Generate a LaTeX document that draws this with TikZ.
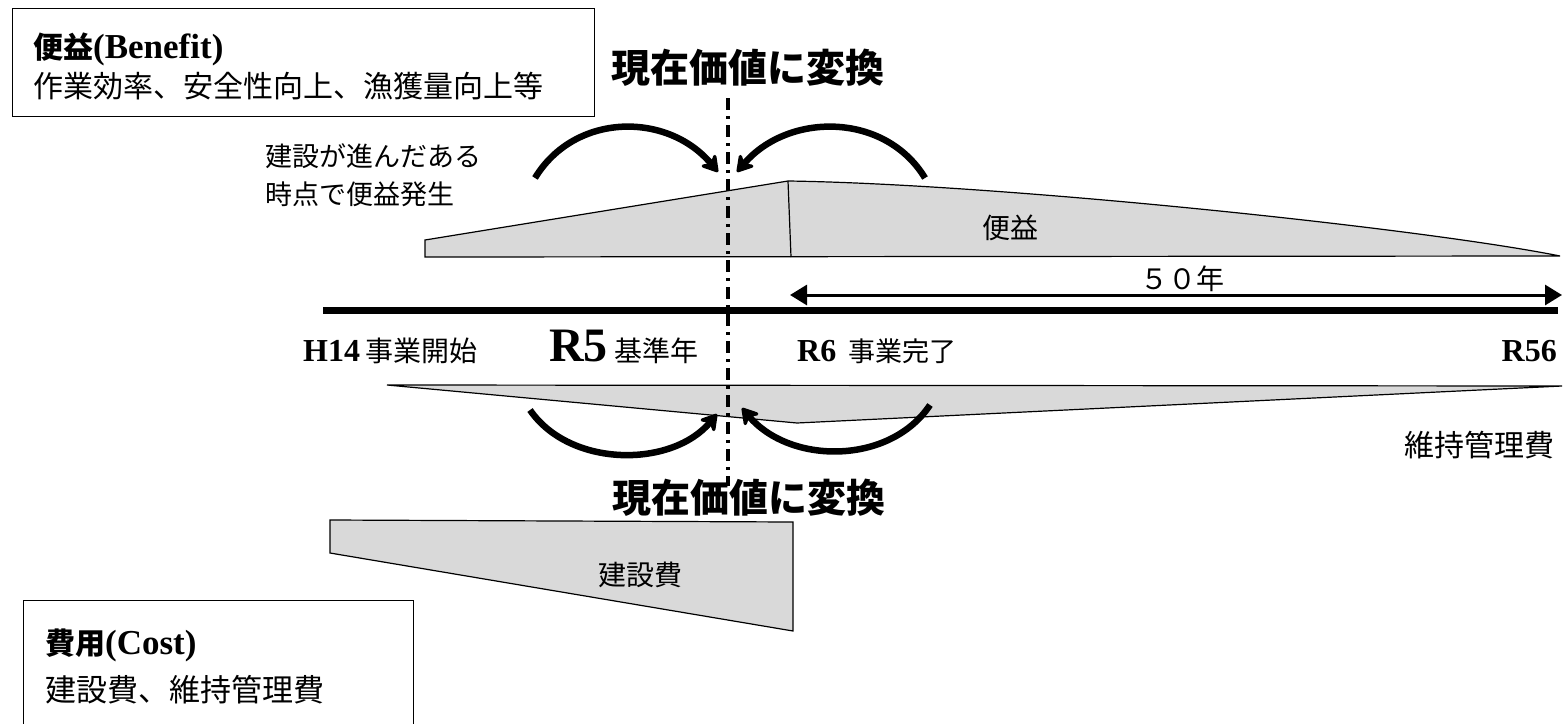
\documentclass[tikz,border=0pt]{standalone}
\usepackage{fontspec}
\setmainfont{Liberation Serif}
\newfontfamily\jp{Noto Sans CJK JP}
\usetikzlibrary{arrows.meta}
\definecolor{shadegray}{HTML}{D9D9D9}
\begin{document}
\begin{tikzpicture}[x=1pt,y=-1pt,
  area/.style={draw=black, line width=1.2pt, fill=shadegray, line join=miter},
  frame/.style={draw=black, line width=1.3pt, inner sep=0pt, anchor=north west},
  swing/.style={line width=6.5pt, -{Stealth[length=20pt,width=24pt,inset=7pt,round]}},
  txt/.style={inner sep=0pt},
  jp/.style={inner sep=0pt, font=\jp\fontsize{#1}{#1}\selectfont},
  jpb/.style={inner sep=0pt, font=\jp\bfseries\fontsize{#1}{#1}\selectfont},
  dashdotline/.style={line width=3.5pt, dash pattern=on 12pt off 6pt on 3pt off 6pt}
]
\useasboundingbox (0,0) rectangle (1565,723);

% boxes
\node[frame, minimum width=582pt, minimum height=108pt] (bbox) at (12,8) {};
\node[frame, minimum width=390pt, minimum height=140pt] (cbox) at (23,600) {};

% box texts
\node[txt, anchor=base west] (btitle) at (33,58) {{\jp\bfseries\fontsize{30}{32}\selectfont 便益}{\bfseries\fontsize{35}{38}\selectfont(Benefit)}};
\node[jp=30, anchor=west] (bdesc) at (33,86) {作業効率、安全性向上、漁獲量向上等};
\node[txt, anchor=base west] (ctitle) at (45,654) {{\jp\bfseries\fontsize{30}{32}\selectfont 費用}{\bfseries\fontsize{35}{38}\selectfont(Cost)}};
\node[jp=31, anchor=west] (cdesc) at (45,690) {建設費、維持管理費};

% shapes
\coordinate (b0) at (425,257);
\coordinate (b1) at (425,240);
\coordinate (bpk) at (788,181);
\coordinate (bbase) at (791,257);
\coordinate (bend) at (1560,256);
\path[area] (b0) -- (b1) -- (bpk) .. controls (1000,184) and (1420,228) .. (bend) -- cycle;
\draw[line width=1.2pt] (bpk) -- (bbase);
\node[jp=28] (blabel) at (1010,228) {便益};

\coordinate (m0) at (387,385);
\coordinate (m1) at (1562,386);
\coordinate (m2) at (797,423);
\path[area] (m0) -- (m1) -- (m2) -- cycle;
\node[jp=30, anchor=east] (mlabel) at (1555,445) {維持管理費};

\coordinate (c0) at (330,520);
\coordinate (c1) at (793,522);
\coordinate (c2) at (793,631);
\coordinate (c3) at (330,553);
\path[area] (c0) -- (c1) -- (c2) -- (c3) -- cycle;
\node[jp=28] (clabel) at (640,575) {建設費};

% timeline
\coordinate (t0) at (323,310);
\coordinate (t1) at (1558,310);
\draw[line width=7pt] (t0) -- (t1);
\coordinate (y0) at (790,295);
\coordinate (y1) at (1562,295);
\draw[line width=3pt, {Triangle[length=17pt,width=20pt]}-{Triangle[length=17pt,width=20pt]}] (y0) -- (y1);
\node[jp=28] (ylabel) at (1182,279) {５０年};

% timeline labels
\node[txt, anchor=base west] (h14) at (303,361) {{\bfseries\fontsize{32}{34}\selectfont H14}\hspace{5pt}{\jp\fontsize{28}{30}\selectfont 事業開始}};
\node[txt, anchor=base west] (r5) at (549,361) {{\bfseries\fontsize{48}{50}\selectfont R5}\hspace{7pt}{\jp\fontsize{28}{30}\selectfont 基準年}};
\node[txt, anchor=base west] (r6) at (797,361) {{\bfseries\fontsize{32}{34}\selectfont R6}\hspace{12pt}{\jp\fontsize{27}{30}\selectfont 事業完了}};
\node[txt, anchor=base east] (r56) at (1557,361) {\bfseries\fontsize{32}{34}\selectfont R56};

% note
\node[jp=27, anchor=west] (note1) at (265,156) {建設が進んだある};
\node[jp=27, anchor=west] (note2) at (265,194) {時点で便益発生};

% titles
\node[jpb=39] (pv1) at (748,68) {現在価値に変換};
\node[jpb=39] (pv2) at (749,498) {現在価値に変換};

% reference year line
\coordinate (d0) at (728,98);
\coordinate (d1) at (728,486);
\draw[dashdotline] (d0) -- (d1);

% curved arrows
\coordinate (a1s) at (535,178);
\coordinate (a1e) at (718,172);
\coordinate (a2s) at (925,178);
\coordinate (a2e) at (737,172);
\coordinate (a3s) at (530,410);
\coordinate (a3e) at (717,414);
\coordinate (a4s) at (930,405);
\coordinate (a4e) at (742,408);
\draw[swing] (a1s) .. controls (575,112) and (668,112) .. (a1e);
\draw[swing] (a2s) .. controls (885,112) and (788,112) .. (a2e);
\draw[swing] (a3s) .. controls (570,468) and (672,468) .. (a3e);
\draw[swing] (a4s) .. controls (890,465) and (790,465) .. (a4e);
\end{tikzpicture}
\end{document}
